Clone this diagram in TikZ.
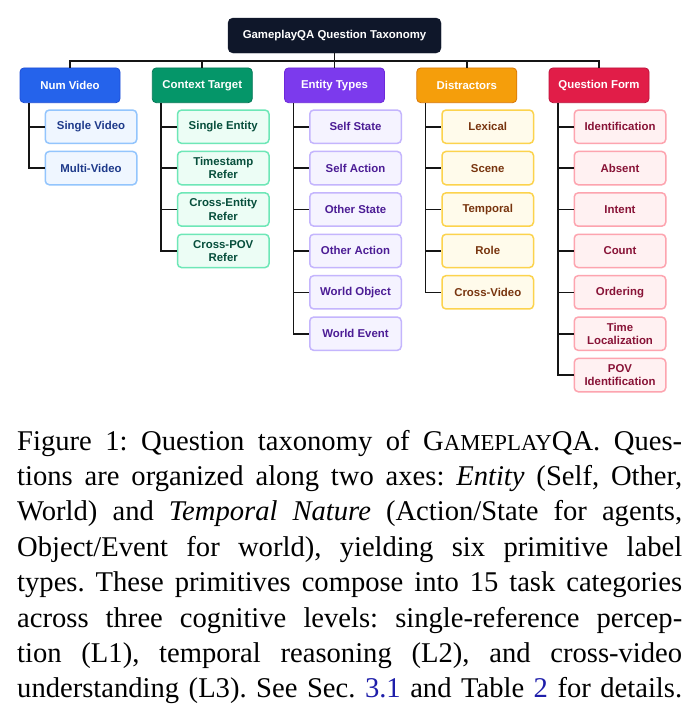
\documentclass[tikz,border=0pt]{standalone}
\usepackage{fontspec}
\setmainfont{Liberation Serif}
\newfontfamily\diagfont{Liberation Sans}
\definecolor{rootfill}{HTML}{0F172A}
\definecolor{conncol}{HTML}{151515}
\definecolor{linkblue}{RGB}{30,30,170}
% blue
\definecolor{bluecat}{HTML}{2563EB}\definecolor{bluecatd}{HTML}{1D4ED8}
\definecolor{bluelf}{HTML}{EFF6FF}\definecolor{blueld}{HTML}{93C5FD}\definecolor{bluelt}{HTML}{1E3A8A}
% green
\definecolor{greencat}{HTML}{059669}\definecolor{greencatd}{HTML}{047857}
\definecolor{greenlf}{HTML}{ECFDF5}\definecolor{greenld}{HTML}{6EE7B7}\definecolor{greenlt}{HTML}{064E3B}
% purple
\definecolor{purplecat}{HTML}{7C3AED}\definecolor{purplecatd}{HTML}{6D28D9}
\definecolor{purplelf}{HTML}{F5F3FF}\definecolor{purpleld}{HTML}{C4B5FD}\definecolor{purplelt}{HTML}{4C1D95}
% amber
\definecolor{ambercat}{HTML}{F59E0B}\definecolor{ambercatd}{HTML}{D97706}
\definecolor{amberlf}{HTML}{FFFBEB}\definecolor{amberld}{HTML}{FCD34D}\definecolor{amberlt}{HTML}{78350F}
% rose
\definecolor{rosecat}{HTML}{E11D48}\definecolor{rosecatd}{HTML}{BE123C}
\definecolor{roself}{HTML}{FFF1F2}\definecolor{roseld}{HTML}{FDA4AF}\definecolor{roselt}{HTML}{881337}
\tikzset{
  dfont/.style={font=\diagfont\bfseries\fontsize{11.4}{13.4}\selectfont},
  rootbox/.style={dfont, fill=rootfill, draw=rootfill, rounded corners=5pt,
    minimum width=213pt, minimum height=35pt, text=white, inner sep=0pt},
  catbox/.style={dfont, fill=#1cat, draw=#1catd, line width=0.8pt, rounded corners=4pt,
    minimum width=100pt, minimum height=34.7pt, text=white, inner sep=0pt},
  leafbox/.style={dfont, fill=#1lf, draw=#1ld, text=#1lt, line width=1.5pt, rounded corners=4pt,
    minimum width=91.5pt, minimum height=33.3pt, align=center, inner sep=0pt},
  conn/.style={draw=conncol, line width=1.6pt},
}
\begin{document}
\begin{tikzpicture}[x=1pt,y=-1pt]
\useasboundingbox (0,0) rectangle (692,723);
\fill[white] (0,0) rectangle (692,723);
% root
\node[rootbox] (root) at (334.5,35.5) {GameplayQA Question Taxonomy};
% categories
\node[catbox=blue]   (nv) at (70,85.3)     {Num Video};
\node[catbox=green]  (ct) at (202.25,85.3) {Context Target};
\node[catbox=purple] (et) at (334.5,85.3)  {Entity Types};
\node[catbox=amber]  (ds) at (466.75,85.3) {Distractors};
\node[catbox=rose]   (qf) at (599,85.3)    {Question Form};
\foreach \c in {nv,ct,et,ds,qf}
  \draw[conn] (root.south) -- ++(0,7.6) -| (\c.north);
% leaves
\foreach \t [count=\i] in {Single Video,Multi-Video}
  \node[leafbox=blue] (nv\i) at (91,85.3+41.4*\i) {\t};
\foreach \t [count=\i] in {Single Entity,{Timestamp\\Refer},{Cross-Entity\\Refer},{Cross-POV\\Refer}}
  \node[leafbox=green] (ct\i) at (223.25,85.3+41.4*\i) {\t};
\foreach \t [count=\i] in {Self State,Self Action,Other State,Other Action,World Object,World Event}
  \node[leafbox=purple] (et\i) at (355.5,85.3+41.4*\i) {\t};
\foreach \t [count=\i] in {Lexical,Scene,Temporal,Role,Cross-Video}
  \node[leafbox=amber] (ds\i) at (487.75,85.3+41.4*\i) {\t};
\foreach \t [count=\i] in {Identification,Absent,Intent,Count,Ordering,{Time\\Localization},{POV\\Identification}}
  \node[leafbox=rose] (qf\i) at (620,85.3+41.4*\i) {\t};
% spines
\foreach \c in {nv,ct,et,ds,qf}
  \coordinate (\c sp) at ([xshift=9.2pt]\c.south west);
\foreach \i in {1,2} \draw[conn] (nvsp) |- (nv\i.west);
\foreach \i in {1,...,4} \draw[conn] (ctsp) |- (ct\i.west);
\foreach \i in {1,...,6} \draw[conn] (etsp) |- (et\i.west);
\foreach \i in {1,...,5} \draw[conn] (dssp) |- (ds\i.west);
\foreach \i in {1,...,7} \draw[conn] (qfsp) |- (qf\i.west);
% caption
\node[anchor=base west, inner sep=0pt] (cap) at (17,450) {\fontsize{28.6}{35.4}\selectfont\frenchspacing
\vtop{\hsize=665pt
\hbox to\hsize{Figure 1: Question taxonomy of G{\fontsize{22.8}{20}\selectfont AMEPLAY}QA. Ques-}
\hbox to\hsize{tions are organized along two axes: \textit{Entity} (Self, Other,}
\hbox to\hsize{World) and \textit{Temporal Nature} (Action/State for agents,}
\hbox to\hsize{Object/Event for world), yielding six primitive label}
\hbox to\hsize{types. These primitives compose into 15 task categories}
\hbox to\hsize{across three cognitive levels: single-reference percep-}
\hbox to\hsize{tion (L1), temporal reasoning (L2), and cross-video}
\hbox to\hsize{understanding (L3). See Sec. \textcolor{linkblue}{3.1} and Table \textcolor{linkblue}{2} for details.}
}};
\end{tikzpicture}
\end{document}
